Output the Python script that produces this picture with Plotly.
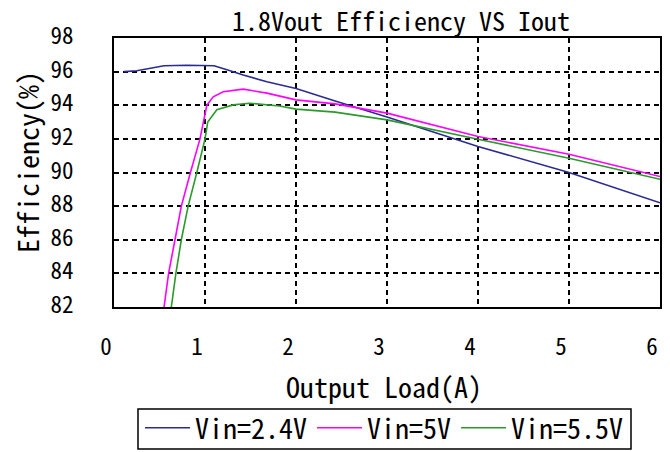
import plotly.graph_objects as go

# Data
x_24 = [0.11, 0.25, 0.40, 0.55, 0.80, 1.10, 1.25, 1.42, 1.68, 2.00, 2.43, 3.00, 4.00, 5.00, 6.00]
y_24 = [96.00, 96.05, 96.20, 96.35, 96.38, 96.35, 96.10, 95.80, 95.40, 95.00, 94.25, 93.30, 91.55, 90.00, 88.20]

x_50 = [0.55, 0.60, 0.67, 0.74, 0.84, 0.945, 1.02, 1.09, 1.20, 1.42, 1.68, 2.00, 2.43, 3.00, 4.00, 5.00, 6.00]
y_50 = [82.00, 84.00, 86.00, 88.00, 90.00, 92.00, 94.00, 94.50, 94.80, 94.96, 94.72, 94.32, 94.08, 93.53, 92.14, 91.09, 89.76]

x_55 = [0.63, 0.68, 0.74, 0.815, 0.91, 1.00, 1.03, 1.13, 1.31, 1.49, 1.82, 2.00, 2.43, 3.00, 4.00, 5.00, 6.00]
y_55 = [82.00, 84.00, 86.00, 88.00, 90.00, 92.00, 93.00, 93.73, 94.02, 94.12, 93.96, 93.77, 93.59, 93.13, 91.98, 90.85, 89.60]

series_names = ["Vin=2.4V", "Vin=5V", "Vin=5.5V"]
series_colors = ["#2B2B92", "#FF00FF", "#2A9A2A"]

x_ticks = [0, 1, 2, 3, 4, 5, 6]
y_ticks = [82, 84, 86, 88, 90, 92, 94, 96, 98]

title_text = "1.8Vout Efficiency VS Iout"
x_title = "Output Load(A)"
y_title = "Efficiency(%)"

FONT = "Noto Sans Mono CJK SC, Liberation Mono, monospace"

# page body has an 8px margin, so the figure is drawn 8px smaller and offset
OFF = 8
W, H = 670 - OFF, 452 - OFF
L, R, T, B = 114 - OFF, 660 - OFF, 38 - OFF, 307 - OFF
PW, PH = R - L, B - T

def px(xp):
    return (xp - OFF - L) / PW

def py(yp):
    return (B - (yp - OFF)) / PH

fig = go.Figure()
for xs, ys, name, col in zip([x_24, x_50, x_55], [y_24, y_50, y_55], series_names, series_colors):
    fig.add_trace(go.Scatter(x=xs, y=ys, mode="lines", name=name,
                             line=dict(color=col, width=1.6)))

fig.update_layout(
    width=W, height=H,
    margin=dict(l=L, r=W - R, t=T, b=H - B, autoexpand=False),
    paper_bgcolor="white", plot_bgcolor="white",
    font=dict(family=FONT, color="black", size=24),
    showlegend=True,
    legend=dict(orientation="h", x=px(384.5), xanchor="center", y=py(403), yanchor="top",
                borderwidth=0, bgcolor="rgba(0,0,0,0)",
                font=dict(family=FONT, size=28, color="black"),
                itemwidth=45, tracegroupgap=0),
    shapes=[
        dict(type="rect", xref="paper", yref="paper",
             x0=px(138), x1=px(631), y0=py(449), y1=py(409),
             line=dict(color="black", width=1.5), fillcolor="white", layer="below"),
    ],
    annotations=[
        dict(text=title_text, x=px(401), y=py(19), xref="paper", yref="paper", showarrow=False,
             xanchor="center", yanchor="middle",
             font=dict(family=FONT, size=26, color="black")),
        dict(text=x_title, x=px(384), y=py(386), xref="paper", yref="paper", showarrow=False,
             xanchor="center", yanchor="middle",
             font=dict(family=FONT, size=28, color="black")),
        dict(text=y_title, x=px(27), y=py(162), xref="paper", yref="paper", showarrow=False,
             textangle=-90, xanchor="center", yanchor="middle",
             font=dict(family=FONT, size=28, color="black")),
    ],
)

fig.update_xaxes(range=[0, 6], tickvals=x_ticks, ticktext=[str(t) for t in x_ticks],
                 showgrid=True, gridcolor="black", gridwidth=1.5, griddash="5px,4px",
                 showline=True, linecolor="black", linewidth=2, mirror=True,
                 ticks="", zeroline=False, ticklabelstandoff=18, ticklabelshift=-8,
                 automargin=False,
                 tickfont=dict(family=FONT, size=23, color="black"))
fig.update_yaxes(range=[82, 98], tickvals=y_ticks, ticktext=[str(t) for t in y_ticks],
                 showgrid=True, gridcolor="black", gridwidth=1.5, griddash="5px,4px",
                 showline=True, linecolor="black", linewidth=2, mirror=True,
                 ticks="", zeroline=False, ticklabelstandoff=34, ticklabelshift=-2,
                 automargin=False,
                 tickfont=dict(family=FONT, size=23, color="black"))

fig.write_html("out.html")
